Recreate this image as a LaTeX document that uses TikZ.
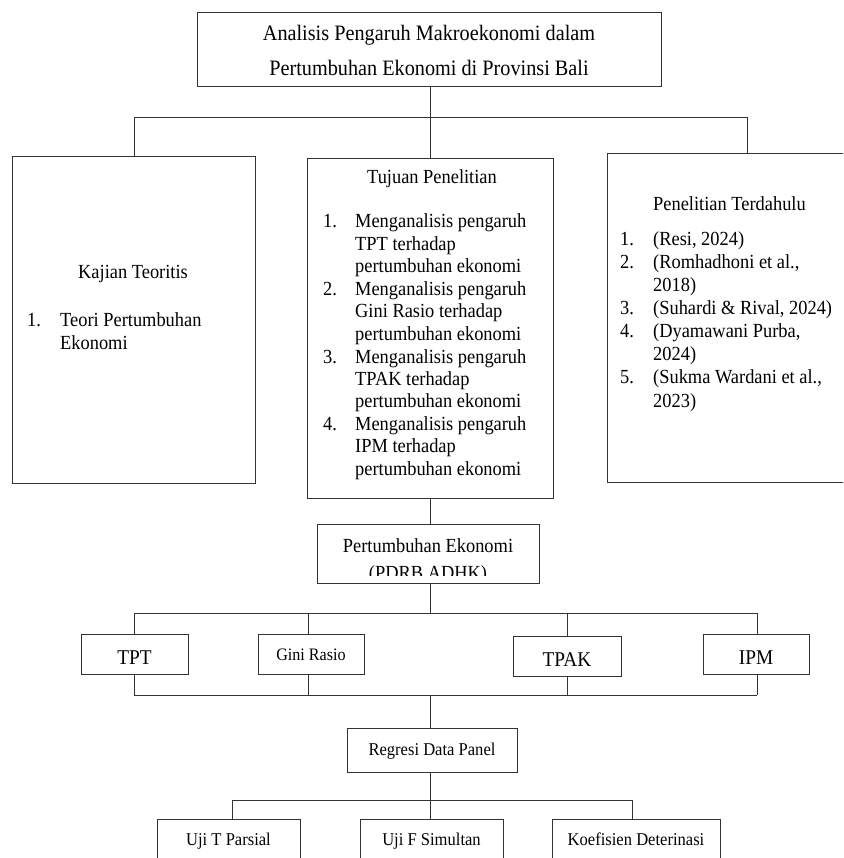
\documentclass[tikz,border=0pt]{standalone}
\usepackage{fontspec}
\setmainfont{Liberation Serif}[FakeStretch=0.92]
\newcommand{\nitem}[2]{\makebox[#1][l]{#2}}
\begin{document}
\begin{tikzpicture}[x=1pt,y=-1pt,
  box/.style={draw=black!80, line width=0.9pt, rectangle, inner sep=0pt, anchor=north west},
  conn/.style={draw=black!80, line width=0.9pt},
  tmain/.style={inner sep=0pt, font=\fontsize{20}{22.5}\selectfont},
  ttitle/.style={inner sep=0pt, font=\fontsize{22}{26}\selectfont},
  tsmall/.style={inner sep=0pt, font=\fontsize{18}{21}\selectfont},
  tvar/.style={inner sep=0pt, font=\fontsize{21}{24}\selectfont},
  tgini/.style={inner sep=0pt, font=\fontsize{17.5}{20}\selectfont},
  tlist/.style={inner sep=0pt, anchor=base west}]
\useasboundingbox (0,0) rectangle (843,858);
\clip (0,0) rectangle (843,858);
\fill[white] (0,0) rectangle (843,858);

% boxes
\node[box, minimum width=464pt, minimum height=74pt] (title) at (197,12) {};
\node[box, minimum width=243pt, minimum height=327pt] (kaj) at (12,156) {};
\node[box, minimum width=246pt, minimum height=340pt] (tuj) at (307,158) {};
\node[box, minimum width=253pt, minimum height=329pt] (pen) at (607,153) {};
\node[box, minimum width=222pt, minimum height=59pt] (pert) at (317,524) {};
\node[box, minimum width=107pt, minimum height=40pt] (tpt) at (81,634) {};
\node[box, minimum width=106pt, minimum height=40pt] (gini) at (258,634) {};
\node[box, minimum width=108pt, minimum height=40pt] (tpak) at (513,636) {};
\node[box, minimum width=106pt, minimum height=40pt] (ipm) at (703,634) {};
\node[box, minimum width=170pt, minimum height=44pt] (reg) at (347,728) {};
\node[box, minimum width=143pt, minimum height=51pt] (ujit) at (157,819) {};
\node[box, minimum width=143pt, minimum height=51pt] (ujif) at (360,819) {};
\node[box, minimum width=168pt, minimum height=51pt] (koef) at (552,819) {};

% bus coordinates
\coordinate (b1L) at (134,117);
\coordinate (b1R) at (747,117);
\coordinate (b1M) at (430,117);
\coordinate (b2L) at (134,613);
\coordinate (b2R) at (757,613);
\coordinate (b2g) at (308,613);
\coordinate (b2M) at (430,613);
\coordinate (b3L) at (134,695);
\coordinate (b3R) at (757,695);
\coordinate (b3g) at (308,695);
\coordinate (b3k) at (567,695);
\coordinate (b3M) at (430,695);
\coordinate (b4L) at (232,800);
\coordinate (b4R) at (632,800);
\coordinate (b4M) at (430,800);

% connectors top level
\draw[conn] (b1M |- title.south) -- (b1M |- tuj.north);
\draw[conn] (b1L) -- (b1R);
\draw[conn] (b1L) -- (b1L |- kaj.north);
\draw[conn] (b1R) -- (b1R |- pen.north);
\draw[conn] (b1M |- tuj.south) -- (b1M |- pert.north);
% variables
\draw[conn] (b2M |- pert.south) -- (b2M);
\draw[conn] (b2L) -- (b2R);
\draw[conn] (b2L) -- (b2L |- tpt.north);
\draw[conn] (b2g) -- (b2g |- gini.north);
\draw[conn] (b3k |- b2L) -- (b3k |- tpak.north);
\draw[conn] (b2R) -- (b2R |- ipm.north);
\draw[conn] (b3L) -- (b3R);
\draw[conn] (b3L |- tpt.south) -- (b3L);
\draw[conn] (b3g |- gini.south) -- (b3g);
\draw[conn] (b3k |- tpak.south) -- (b3k);
\draw[conn] (b3R |- ipm.south) -- (b3R);
\draw[conn] (b3M) -- (b3M |- reg.north);
% tests
\draw[conn] (b4M |- reg.south) -- (b4M |- ujif.north);
\draw[conn] (b4L) -- (b4R);
\draw[conn] (b4L) -- (b4L |- ujit.north);
\draw[conn] (b4R) -- (b4R |- koef.north);

% texts
\node[ttitle, anchor=base] (tt1) at (429,40.5) {Analisis Pengaruh Makroekonomi dalam};
\node[ttitle, anchor=base] (tt2) at (429,75.5) {Pertumbuhan Ekonomi di Provinsi Bali};

\node[tmain, anchor=base] (kajh) at (133,278) {Kajian Teoritis};
\node[tmain, font=\fontsize{20}{23}\selectfont, tlist] (kajl) at (27,326)
  {\begin{tabular}[t]{@{}l@{}}\nitem{33pt}{1.}Teori Pertumbuhan\\\nitem{33pt}{}Ekonomi\end{tabular}};

\node[tmain, anchor=base] (tujh) at (432,184) {Tujuan Penelitian};
\node[tmain, tlist] (tujl) at (323,228)
  {\begin{tabular}[t]{@{}l@{}}
   \nitem{32pt}{1.}Menganalisis pengaruh\\\nitem{32pt}{}TPT terhadap\\\nitem{32pt}{}pertumbuhan ekonomi\\
   \nitem{32pt}{2.}Menganalisis pengaruh\\\nitem{32pt}{}Gini Rasio terhadap\\\nitem{32pt}{}pertumbuhan ekonomi\\
   \nitem{32pt}{3.}Menganalisis pengaruh\\\nitem{32pt}{}TPAK terhadap\\\nitem{32pt}{}pertumbuhan ekonomi\\
   \nitem{32pt}{4.}Menganalisis pengaruh\\\nitem{32pt}{}IPM terhadap\\\nitem{32pt}{}pertumbuhan ekonomi
   \end{tabular}};

\node[tmain, anchor=base west] (penh) at (653,211) {Penelitian Terdahulu};
\node[tmain, font=\fontsize{20}{23}\selectfont, tlist] (penl) at (620,246)
  {\begin{tabular}[t]{@{}l@{}}
   \nitem{33pt}{1.}(Resi, 2024)\\
   \nitem{33pt}{2.}(Romhadhoni et al.,\\\nitem{33pt}{}2018)\\
   \nitem{33pt}{3.}(Suhardi \& Rival, 2024)\\
   \nitem{33pt}{4.}(Dyamawani Purba,\\\nitem{33pt}{}2024)\\
   \nitem{33pt}{5.}(Sukma Wardani et al.,\\\nitem{33pt}{}2023)
   \end{tabular}};

\node[tmain, anchor=base] (perth1) at (428,552) {Pertumbuhan Ekonomi};
\begin{scope}
  \clip (318,525) rectangle (538,575);
  \node[tmain, anchor=base] (perth2) at (428,579) {(PDRB ADHK)};
\end{scope}

\node[tvar, anchor=base] (tptt) at (134.5,664) {TPT};
\node[tgini, anchor=base] (ginit) at (311,660) {Gini Rasio};
\node[tvar, anchor=base] (tpakt) at (567,666) {TPAK};
\node[tvar, anchor=base] (ipmt) at (756,664) {IPM};

\node[tsmall, anchor=base] (regt) at (432,755.5) {Regresi Data Panel};
\node[tsmall, anchor=base] (ujitt) at (228.5,845) {Uji T Parsial};
\node[tsmall, anchor=base] (ujift) at (431.5,845) {Uji F Simultan};
\node[tsmall, anchor=base] (koeft) at (636,845) {Koefisien Deterinasi};
\end{tikzpicture}
\end{document}
